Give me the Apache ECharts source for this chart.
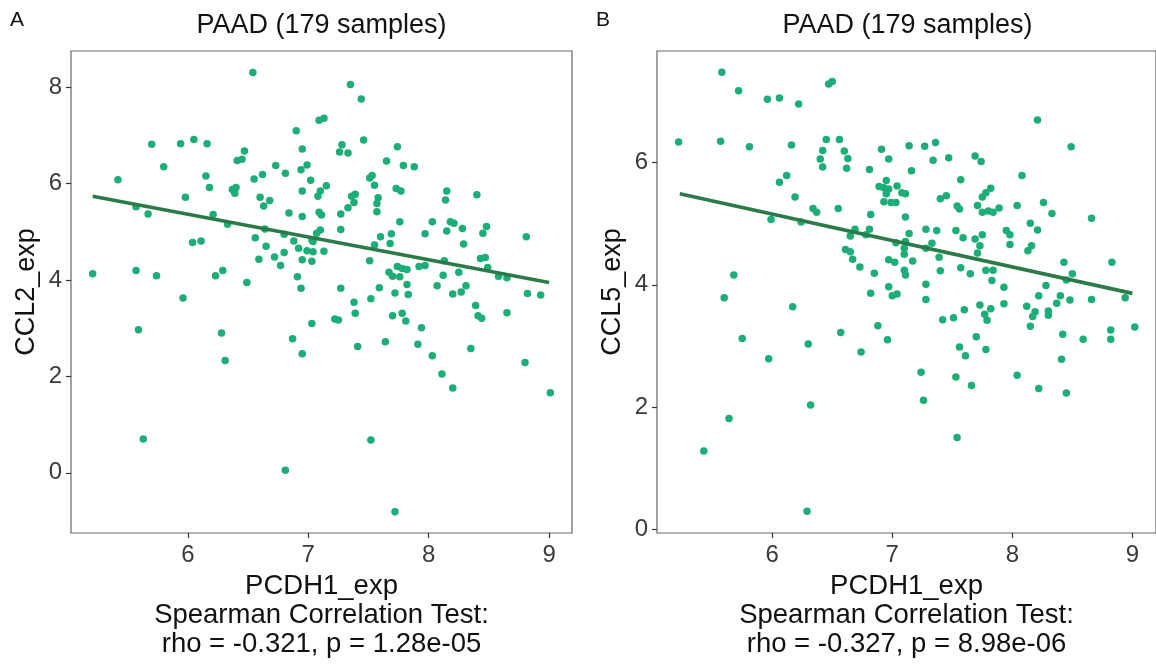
<!DOCTYPE html>
<html>
<head>
<meta charset="utf-8">
<script src="https://cdn.jsdelivr.net/npm/echarts@6/dist/echarts.min.js"></script>
<style>
html,body{margin:0;padding:0;background:#fff;}
#chart{width:1156px;height:664px;}
</style>
</head>
<body>
<div id="chart"></div>
<script>
// ---- Panel A: PCDH1_exp vs CCL2_exp ----
const pcdh1A = [6.54,6.90,6.95,5.70,5.94,6.05,6.16,6.47,6.41,6.45,5.80,6.73,6.99,6.94,5.42,6.15,6.55,6.62,6.81,7.02,6.18,6.37,6.40,6.39,6.95,5.98,6.60,6.68,6.63,5.57,5.67,6.21,6.33,6.84,6.95,6.64,6.56,6.80,6.88,6.04,6.11,6.65,6.92,6.99,6.80,6.72,6.59,6.95,7.03,6.77,5.21,5.57,5.74,6.23,6.29,6.91,6.49,6.94,
  7.35,7.44,7.09,7.13,7.46,7.74,7.28,7.26,7.33,7.65,7.79,7.88,7.51,7.53,7.55,7.15,7.10,7.08,7.73,7.77,8.15,8.40,8.14,7.36,7.39,7.38,7.58,7.57,7.57,7.33,7.27,7.09,7.11,7.76,8.03,8.18,8.21,8.28,8.48,7.27,7.10,7.07,8.15,8.45,8.81,7.69,7.60,7.97,7.68,7.55,8.29,7.03,7.04,7.13,7.04,7.51,8.13,8.43,8.47,8.49,7.92,7.97,7.74,7.78,7.82,7.67,7.70,7.76,8.25,8.12,8.58,8.65,7.82,8.07,8.31,7.27,7.59,
  7.52,7.38,7.39,7.72,7.83,8.20,8.27,7.70,7.78,7.81,8.39,8.41,8.44,8.65,8.82,8.93,7.03,7.22,7.25,7.41,7.64,7.94,7.91,8.03,8.11,8.20,8.35,8.80,9.01,7.52,7.72,
  5.96,5.59,6.28,6.31,6.87,6.95,5.63,6.81];
const ccl2 = [8.31,7.10,6.72,6.82,6.83,6.92,6.83,6.68,6.48,6.51,6.35,6.38,6.39,6.29,6.08,6.16,6.10,6.19,6.22,6.07,5.92,5.88,5.92,5.80,5.85,5.72,5.72,5.65,5.54,5.52,5.37,5.36,5.16,5.39,5.32,5.06,4.88,4.95,4.81,4.78,4.81,4.70,4.66,4.61,4.57,4.48,4.43,4.42,4.39,4.30,4.13,4.20,4.09,4.09,4.20,4.07,3.95,3.83,
  8.06,7.76,7.32,7.36,6.91,6.77,6.81,6.66,6.64,6.47,6.38,6.35,6.12,6.17,5.97,5.96,5.85,5.74,5.90,5.85,5.85,5.77,5.66,5.74,5.78,5.61,5.71,5.59,5.42,5.50,5.37,5.41,5.35,5.21,5.21,5.21,5.18,5.07,5.11,5.05,5.04,4.97,5.02,4.97,4.90,4.96,4.90,4.96,4.76,4.73,4.75,4.83,4.80,4.60,4.59,4.40,4.40,4.45,4.47,4.26,4.28,4.30,4.28,4.24,4.22,4.16,4.08,4.07,4.16,4.10,4.08,4.05,3.91,3.88,3.88,3.83,3.84,
  3.61,3.54,3.31,3.73,3.70,3.71,3.75,3.26,3.31,3.15,3.47,3.26,3.21,3.32,3.72,3.69,3.10,3.19,3.17,2.62,2.72,3.01,2.67,2.43,2.05,1.76,2.58,2.29,1.66,0.68,-0.81,
  3.63,2.97,2.90,2.33,2.78,2.47,0.70,0.05];
const trendAx = [5.21, 9.0];
const trendAy = [5.74, 3.95];

// ---- Panel B: PCDH1_exp vs CCL5_exp ----
const pcdh1B = [5.58,5.72,5.96,6.06,6.22,6.47,6.50,5.22,5.57,5.81,6.16,6.45,6.56,6.42,6.60,6.40,6.63,6.42,6.62,6.91,6.97,6.81,6.12,6.06,6.19,6.95,6.89,6.93,6.97,7.04,6.95,6.93,6.99,7.03,6.34,6.37,6.55,6.82,5.99,6.24,6.69,6.65,6.81,6.78,7.03,6.61,6.65,6.67,6.73,6.97,7.02,6.85,5.68,6.97,
  5.60,6.17,5.75,5.97,6.30,6.57,6.74,6.88,6.96,6.82,7.00,7.04,6.32,5.64,5.43,6.29,
  8.21,8.49,7.14,7.27,7.36,7.34,7.47,7.69,7.74,7.16,7.57,8.08,7.08,7.11,7.40,7.45,7.82,7.78,7.75,7.54,7.56,7.71,7.75,7.80,7.84,7.89,8.04,8.26,8.33,8.66,7.11,7.14,7.11,7.10,7.10,7.28,7.37,7.33,7.28,7.53,7.59,7.69,7.75,7.73,7.71,7.95,7.98,7.98,8.15,8.21,8.16,8.13,7.39,7.40,7.17,7.10,7.11,7.57,7.65,7.78,7.84,7.83,7.93,7.28,8.28,8.43,8.50,8.45,8.83,
  7.28,7.73,7.77,7.79,7.82,7.60,7.51,7.42,7.93,8.12,8.19,8.17,8.30,8.30,8.15,8.22,8.37,8.40,8.48,8.66,8.94,8.82,8.82,8.59,8.42,9.02,7.70,7.56,7.61,7.78,7.24,7.53,7.66,8.04,8.22,8.41,8.45,7.26,7.54];
const ccl5 = [7.48,7.18,7.04,7.06,6.96,7.29,7.33,6.34,6.35,6.26,6.29,6.38,6.38,6.20,6.19,6.06,6.07,5.93,5.91,6.22,6.06,5.89,5.79,5.68,5.44,5.71,5.61,5.59,5.57,5.62,5.49,5.36,5.35,5.35,5.25,5.19,5.25,5.15,5.07,5.03,4.91,4.80,4.91,4.82,4.69,4.58,4.54,4.42,4.29,4.41,4.37,4.19,4.16,3.97,
  3.79,3.64,3.12,2.79,3.03,3.22,2.90,3.33,3.10,3.86,3.82,3.85,2.03,1.81,1.28,0.29,
  6.70,6.26,6.28,6.27,6.33,6.04,6.08,6.11,6.02,5.87,5.72,5.79,5.51,5.49,5.41,5.46,5.58,5.51,5.44,5.29,5.24,5.30,5.19,5.21,5.19,5.26,5.30,5.35,5.17,5.09,5.11,4.84,4.71,4.60,4.50,4.91,4.89,4.68,4.60,4.89,4.77,4.75,4.82,4.64,4.52,4.89,4.82,4.66,5.01,4.90,4.64,4.56,4.45,4.23,4.39,4.24,4.16,4.28,4.18,4.24,4.24,4.07,3.96,4.01,3.99,4.37,4.18,4.08,4.37,
  3.76,3.67,3.52,3.42,3.61,3.59,3.46,3.43,3.69,3.65,3.56,3.48,3.57,3.50,3.32,3.82,3.70,3.82,3.75,3.76,3.79,3.26,3.11,3.11,3.19,3.31,3.15,2.98,2.84,2.94,2.57,2.49,2.35,2.52,2.30,2.78,2.23,2.11,1.50];
const trendBx = [5.23, 9.0];
const trendBy = [5.49, 3.86];

// ---- Text / ticks ----
const panelTitle = 'PAAD (179 samples)';
const panelLetters = ['A', 'B'];
const xName = 'PCDH1_exp';
const yNames = ['CCL2_exp', 'CCL5_exp'];
const statsA = ['Spearman Correlation Test:', 'rho = -0.321, p = 1.28e-05'];
const statsB = ['Spearman Correlation Test:', 'rho = -0.327, p = 8.98e-06'];
const xTicks = [6, 7, 8, 9];
const yTicksA = [0, 2, 4, 6, 8];
const yTicksB = [0, 2, 4, 6];

const FONT = '"Liberation Sans", Arial, Helvetica, sans-serif';
const pointColor = '#1dad76';
const lineColor = '#2b7b48';
const tickColor = '#333333';
const labelColor = '#3a3a3a';

const zip = (xs, ys) => xs.map((x, i) => [x, ys[i]]);

const chart = echarts.init(document.getElementById('chart'), null, {renderer: 'canvas'});

function xAxisCfg(idx, min, max, stats) {
  return {
    type: 'value', gridIndex: idx, min: min, max: max,
    splitLine: {show: false},
    axisLine: {show: false, onZero: false},
    axisTick: {show: true, customValues: xTicks, length: 5, lineStyle: {color: tickColor, width: 1.2}},
    axisLabel: {customValues: xTicks, fontSize: 24, color: labelColor, fontFamily: FONT, margin: 10},
    name: [xName].concat(stats).join('\n'),
    nameLocation: 'middle', nameGap: 33,
    nameTextStyle: {fontSize: 27.5, color: '#111', fontFamily: FONT, lineHeight: 29}
  };
}
function yAxisCfg(idx, min, max, ticks, name) {
  return {
    type: 'value', gridIndex: idx, min: min, max: max,
    splitLine: {show: false},
    axisLine: {show: false, onZero: false},
    axisTick: {show: true, customValues: ticks, length: 5, lineStyle: {color: tickColor, width: 1.2}},
    axisLabel: {customValues: ticks, fontSize: 24, color: labelColor, fontFamily: FONT, margin: 9},
    name: name, nameLocation: 'middle', nameGap: 31, nameRotate: 90,
    nameTextStyle: {fontSize: 27, color: '#111', fontFamily: FONT}
  };
}

const option = {
  backgroundColor: '#ffffff',
  animation: false,
  grid: [
    {left: 71, top: 51, width: 501, height: 482, show: true, borderColor: '#666666', borderWidth: 1.2, backgroundColor: '#fff'},
    {left: 657, top: 51, width: 501, height: 482, show: true, borderColor: '#666666', borderWidth: 1.2, backgroundColor: '#fff'}
  ],
  xAxis: [
    xAxisCfg(0, 5.03, 9.19, statsA),
    xAxisCfg(1, 5.04, 9.197, statsB)
  ],
  yAxis: [
    yAxisCfg(0, -1.25, 8.755, yTicksA, yNames[0]),
    yAxisCfg(1, -0.065, 7.83, yTicksB, yNames[1])
  ],
  graphic: [
    {type: 'text', x: 10, y: 10, style: {text: panelLetters[0], font: '21px ' + FONT, fill: '#111', textVerticalAlign: 'top'}},
    {type: 'text', x: 596, y: 10, style: {text: panelLetters[1], font: '21px ' + FONT, fill: '#111', textVerticalAlign: 'top'}},
    {type: 'text', x: 321.5, y: 25.5, style: {text: panelTitle, font: '27px ' + FONT, fill: '#111', textAlign: 'center', textVerticalAlign: 'middle'}},
    {type: 'text', x: 907.5, y: 25.5, style: {text: panelTitle, font: '27px ' + FONT, fill: '#111', textAlign: 'center', textVerticalAlign: 'middle'}}
  ],
  series: [
    {type: 'scatter', xAxisIndex: 0, yAxisIndex: 0, data: zip(pcdh1A, ccl2), symbolSize: 7.5,
      itemStyle: {color: pointColor, opacity: 1}, z: 2, silent: true},
    {type: 'line', xAxisIndex: 0, yAxisIndex: 0, data: zip(trendAx, trendAy), symbol: 'none',
      lineStyle: {color: lineColor, width: 3.6}, z: 3, silent: true},
    {type: 'scatter', xAxisIndex: 1, yAxisIndex: 1, data: zip(pcdh1B, ccl5), symbolSize: 7.5,
      itemStyle: {color: pointColor, opacity: 1}, z: 2, silent: true},
    {type: 'line', xAxisIndex: 1, yAxisIndex: 1, data: zip(trendBx, trendBy), symbol: 'none',
      lineStyle: {color: lineColor, width: 3.6}, z: 3, silent: true}
  ]
};
chart.setOption(option);
</script>
</body>
</html>
